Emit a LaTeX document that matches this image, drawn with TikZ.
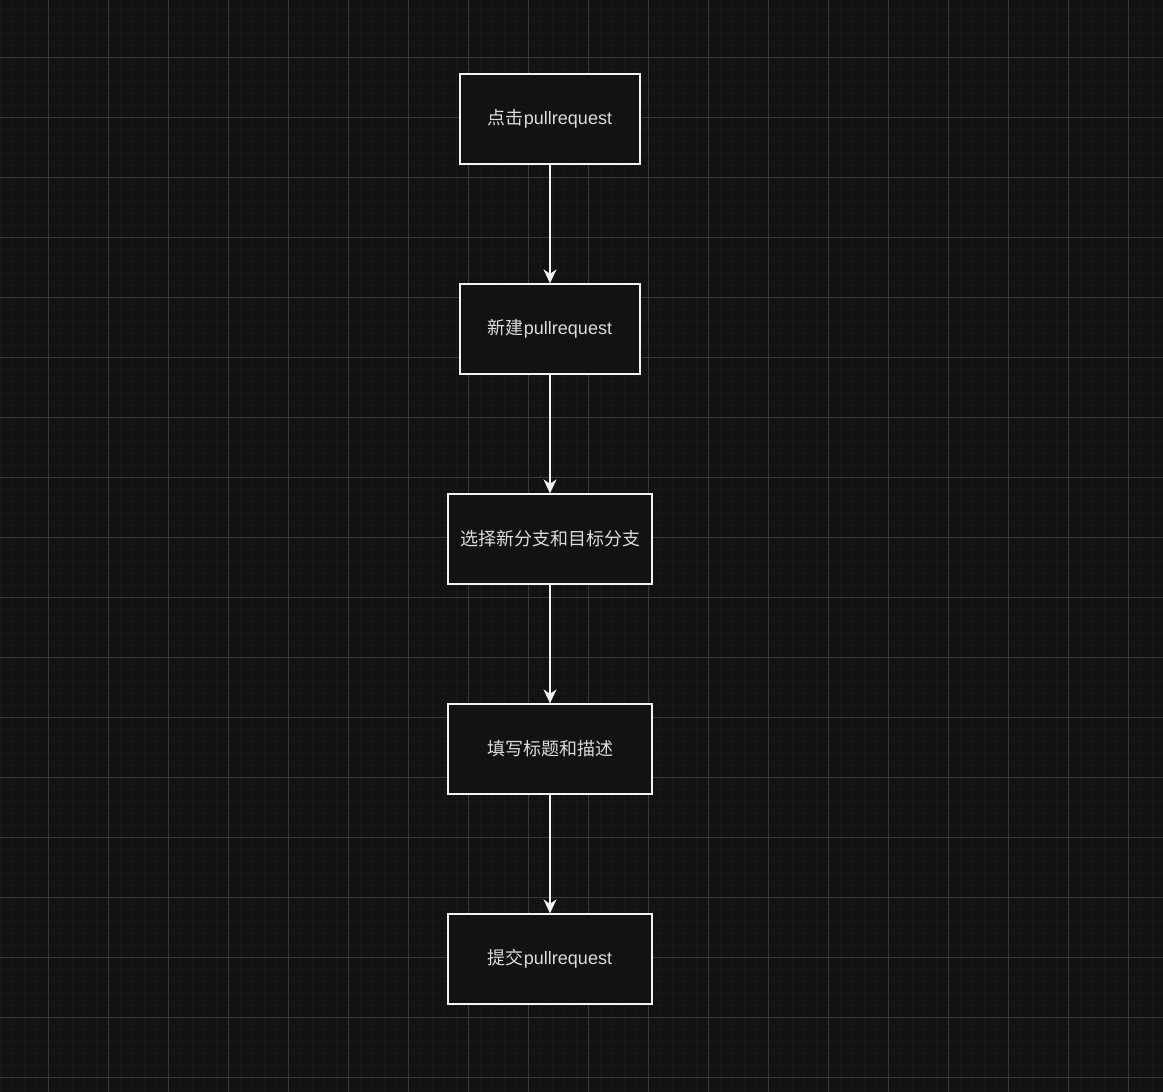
\documentclass[tikz,border=0pt]{standalone}
\usepackage{fontspec}
\newfontfamily\cjk{Noto Sans CJK SC}
\newfontfamily\lat{Liberation Sans}
\usetikzlibrary{arrows.meta}
\definecolor{bgc}{HTML}{121212}
\definecolor{minorc}{HTML}{181818}
\definecolor{majorc}{HTML}{383838}
\definecolor{boxc}{HTML}{F2F2F2}
\definecolor{txtc}{HTML}{DCDCDC}
\tikzset{
  stepbox/.style={draw=boxc, line width=1.3pt, fill=bgc, minimum height=90pt, inner sep=0pt, text=txtc, font=\fontsize{18pt}{20pt}\selectfont},
  narrowbox/.style={stepbox, minimum width=180pt},
  widebox/.style={stepbox, minimum width=204pt},
  flow/.style={draw=boxc, line width=1.3pt, -{Stealth[length=14pt,width=13pt,inset=4.5pt]}}
}
\begin{document}
\begin{tikzpicture}[x=1pt,y=-1pt]
\fill[bgc] (0,0) rectangle (1163,1092);
\useasboundingbox (0,0) rectangle (1163,1092);
\foreach \i in {0,12,...,1164} {\draw[minorc, line width=0.8pt] (\i,0) -- (\i,1092);}
\foreach \j in {9.5,21.5,...,1092} {\draw[minorc, line width=0.8pt] (0,\j) -- (1163,\j);}
\foreach \i in {48,108,...,1164} {\draw[majorc, line width=1pt] (\i,0) -- (\i,1092);}
\foreach \j in {57.5,117.5,...,1092} {\draw[majorc, line width=1pt] (0,\j) -- (1163,\j);}
\node[narrowbox] (n1) at (550,119) {{\cjk 点击}{\lat pullrequest}};
\node[narrowbox] (n2) at (550,329) {{\cjk 新建}{\lat pullrequest}};
\node[widebox] (n3) at (550,539) {{\cjk 选择新分支和目标分支}};
\node[widebox] (n4) at (550,749) {{\cjk 填写标题和描述}};
\node[widebox] (n5) at (550,959) {{\cjk 提交}{\lat pullrequest}};
\draw[flow] (n1) -- (n2);
\draw[flow] (n2) -- (n3);
\draw[flow] (n3) -- (n4);
\draw[flow] (n4) -- (n5);
\end{tikzpicture}
\end{document}
